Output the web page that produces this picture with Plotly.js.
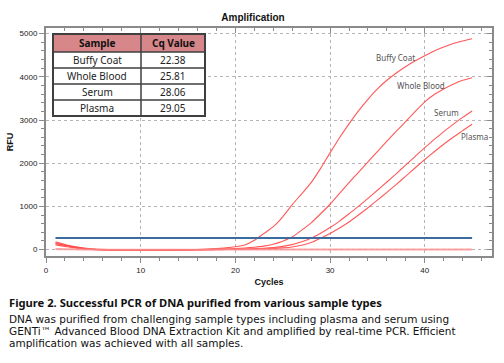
<!DOCTYPE html>
<html>
<head>
<meta charset="utf-8">
<script src="https://cdn.plot.ly/plotly-3.0.1.min.js"></script>
<style>html,body{margin:0;padding:0;background:#fff;}#chart{width:504px;height:363px;}</style>
</head>
<body>
<div id="chart"></div>
<script>
const cycles = [1,2,3,4,5,6,7,8,9,10,11,12,13,14,15,16,17,18,19,20,21,22,23,24,25,26,27,28,29,30,31,32,33,34,35,36,37,38,39,40,41,42,43,44,45];
const buffyCoat = [180,120,70,35,12,0,-8,-12,-15,-15,-14,-12,-10,-6,-2,4,12,24,40,65,105,215,370,530,760,1040,1290,1550,1880,2240,2590,2910,3210,3480,3720,3920,4090,4240,4370,4490,4600,4690,4770,4830,4880];
const wholeBlood = [140,95,55,25,5,-5,-12,-16,-18,-18,-17,-15,-13,-10,-7,-3,2,8,15,25,38,55,80,125,195,290,450,620,830,1050,1300,1550,1790,2030,2270,2510,2740,2970,3200,3420,3590,3720,3830,3920,3980];
const serum = [150,100,60,28,8,-4,-10,-14,-16,-17,-16,-14,-12,-10,-8,-5,-2,2,6,10,15,22,32,48,75,115,180,265,380,510,660,830,1000,1185,1375,1565,1760,1960,2160,2360,2550,2730,2900,3060,3210];
const plasma = [110,75,40,15,0,-8,-13,-16,-18,-18,-17,-16,-14,-12,-10,-8,-5,-2,1,4,8,12,18,27,40,62,100,165,265,375,500,640,800,970,1145,1325,1510,1700,1895,2085,2265,2440,2600,2755,2900];
const negControl = [15,10,6,3,1,0,-2,-3,-4,-4,-4,-3,-3,-2,-2,-1,-1,0,0,0,0,0,0,0,0,0,0,0,0,0,0,0,0,0,0,0,0,0,0,0,0,0,0,0,0];
const thresholdCycles = [1, 45];
const thresholdRFU = 270;
const samples = ["Buffy Coat", "Whole Blood", "Serum", "Plasma"];
const cqValues = [22.38, 25.81, 28.06, 29.05];
const curveLabelCycles = [36.9, 39.6, 42.3, 45.3];
const curveLabelRFU = [4457, 3797, 3173, 2610];
const tableHeader = ["Sample", "Cq Value"];
const captionTitle = "Figure 2. Successful PCR of DNA purified from various sample types";
const captionLines = [
  "DNA was purified from challenging sample types including plasma and serum using",
  "GENTi\u2122 Advanced Blood DNA Extraction Kit and amplified by real-time PCR. Efficient",
  "amplification was achieved with all samples."
];

const W = 504, H = 363, L = 46, R = 12, T = 28, B = 107;
const pw = W - L - R, ph = H - T - B;
const px2x = px => (px - L) / pw;
const py2y = py => (H - B - py) / ph;

const red = "rgba(255,70,70,0.9)";
const traces = [];
[buffyCoat, wholeBlood, serum, plasma].forEach((s, i) => {
  traces.push({x: cycles, y: s, type: "scatter", mode: "lines", name: samples[i],
    line: {color: red, width: 1.1, shape: "spline", smoothing: 0.5}, hoverinfo: "skip"});
});
traces.push({x: cycles, y: negControl, type: "scatter", mode: "lines", name: "NTC",
  line: {color: "rgba(255,140,140,0.8)", width: 2, shape: "spline"}, hoverinfo: "skip"});
traces.push({x: thresholdCycles, y: thresholdCycles.map(() => thresholdRFU), type: "scatter", mode: "lines",
  name: "Threshold", line: {color: "#3d6b9e", width: 2}, hoverinfo: "skip"});
traces.push({x: [], y: [], xaxis: "x2", yaxis: "y2", type: "scatter", mode: "lines", showlegend: false, hoverinfo: "skip"});

// table drawn with shapes + annotations (layout geometry in pixels)
const tbl = {left: 53, right: 205, split: 141, top: 34, header: 52, rowH: 16};
const tblBottom = tbl.header + samples.length * tbl.rowH;
const border = "#3f3f3f";
const shapes = [];
shapes.push({type: "rect", xref: "paper", yref: "paper", x0: px2x(tbl.left), x1: px2x(tbl.right), y0: py2y(tbl.top), y1: py2y(tblBottom),
  fillcolor: "#ffffff", line: {width: 0}, layer: "above"});
shapes.push({type: "rect", xref: "paper", yref: "paper", x0: px2x(tbl.left), x1: px2x(tbl.right), y0: py2y(tbl.top), y1: py2y(tbl.header),
  fillcolor: "#d7878a", line: {width: 0}, layer: "above"});
for (let i = 0; i < samples.length; i++) {
  const yy = py2y(tbl.header + i * tbl.rowH);
  shapes.push({type: "line", xref: "paper", yref: "paper", x0: px2x(tbl.left), x1: px2x(tbl.right), y0: yy, y1: yy,
    line: {color: border, width: 1.5}, layer: "above"});
}
shapes.push({type: "line", xref: "paper", yref: "paper", x0: px2x(tbl.split), x1: px2x(tbl.split), y0: py2y(tbl.top), y1: py2y(tblBottom),
  line: {color: border, width: 1.5}, layer: "above"});
shapes.push({type: "rect", xref: "paper", yref: "paper", x0: px2x(tbl.left), x1: px2x(tbl.right), y0: py2y(tbl.top), y1: py2y(tblBottom),
  line: {color: border, width: 2}, layer: "above"});

const annotations = [];
const tfont = {family: "Noto Sans, Arial", size: 10, color: "#222"};
const colC = [(tbl.left + tbl.split) / 2, (tbl.split + tbl.right) / 2];
tableHeader.forEach((h, j) => annotations.push({x: px2x(colC[j]), y: py2y((tbl.top + tbl.header) / 2), xref: "paper", yref: "paper",
  text: "<b>" + h + "</b>", showarrow: false, xanchor: "center", yanchor: "middle", font: Object.assign({}, tfont, {color: "#111"})}));
samples.forEach((s, i) => {
  const cy = py2y(tbl.header + (i + 0.5) * tbl.rowH);
  annotations.push({x: px2x(colC[0]), y: cy, xref: "paper", yref: "paper", text: s, showarrow: false, xanchor: "center", yanchor: "middle", font: tfont});
  annotations.push({x: px2x(colC[1]), y: cy, xref: "paper", yref: "paper", text: cqValues[i].toFixed(2), showarrow: false, xanchor: "center", yanchor: "middle", font: tfont});
});

samples.forEach((s, i) => annotations.push({
  x: curveLabelCycles[i], y: curveLabelRFU[i], xref: "x", yref: "y", text: s, showarrow: false,
  font: {family: "Noto Sans, Arial", size: 8, color: "#555"}, xanchor: "center", yanchor: "middle"
}));
annotations.push({x: px2x(7), y: py2y(302), xref: "paper", yref: "paper", text: "<b>" + captionTitle + "</b>",
  showarrow: false, xanchor: "left", yanchor: "middle", font: {family: "Noto Sans, Arial", size: 11.2, color: "#111"}});
captionLines.forEach((t, i) => annotations.push({x: px2x(7), y: py2y(318.5 + i * 12), xref: "paper", yref: "paper", text: t,
  showarrow: false, xanchor: "left", yanchor: "middle", font: {family: "DejaVu Sans", size: 10.5, color: "#111"}}));

const axisCommon = {showline: true, linecolor: "#8a8a8a", linewidth: 2, tickcolor: "#8a8a8a",
  zeroline: false, gridcolor: "#b5b5b5", griddash: "dot", gridwidth: 1,
  tickfont: {family: "Arial, Liberation Sans", size: 8, color: "#222"}};
const layout = {
  width: W, height: H, margin: {l: L, r: R, t: T, b: B}, showlegend: false,
  paper_bgcolor: "#fff", plot_bgcolor: "#fff",
  title: {text: "<b>Amplification</b>", font: {family: "Arial, Liberation Sans", size: 10, color: "#111"},
    x: 253 / 504, xref: "container", y: 1 - 17 / 363, yref: "container", xanchor: "center", yanchor: "middle"},
  xaxis: Object.assign({}, axisCommon, {range: [0, 47.1], dtick: 10, tick0: 0, ticks: "outside", ticklen: 5,
    showgrid: true, minor: {dtick: 2, ticks: "outside", ticklen: 3, tickcolor: "#8a8a8a", showgrid: false},
    title: {text: "<b>Cycles</b>", standoff: 5, font: {family: "Arial, Liberation Sans", size: 9, color: "#111"}}}),
  yaxis: Object.assign({}, axisCommon, {range: [-148, 5130], dtick: 1000, tick0: 0, ticks: "outside", ticklen: 5,
    showgrid: true, minor: {dtick: 200, ticks: "outside", ticklen: 3, tickcolor: "#8a8a8a", showgrid: false},
    title: {text: "<b>RFU</b>", standoff: 4, font: {family: "Arial, Liberation Sans", size: 9, color: "#111"}}}),
  xaxis2: {overlaying: "x", side: "top", anchor: "y2", range: [0, 47.1], dtick: 10, tick0: 0, ticks: "inside", ticklen: 5,
    tickcolor: "#8a8a8a", showticklabels: false, showgrid: false, zeroline: false, showline: true, linecolor: "#8a8a8a", linewidth: 2,
    minor: {dtick: 2, ticks: "inside", ticklen: 3, tickcolor: "#8a8a8a"}},
  yaxis2: {overlaying: "y", side: "right", anchor: "x2", range: [-148, 5130], dtick: 1000, tick0: 0, ticks: "inside", ticklen: 5,
    tickcolor: "#8a8a8a", showticklabels: false, showgrid: false, zeroline: false, showline: true, linecolor: "#8a8a8a", linewidth: 2,
    minor: {dtick: 200, ticks: "inside", ticklen: 3, tickcolor: "#8a8a8a"}},
  shapes: shapes,
  annotations: annotations
};
Plotly.newPlot("chart", traces, layout, {staticPlot: true, displayModeBar: false});
</script>
</body>
</html>
